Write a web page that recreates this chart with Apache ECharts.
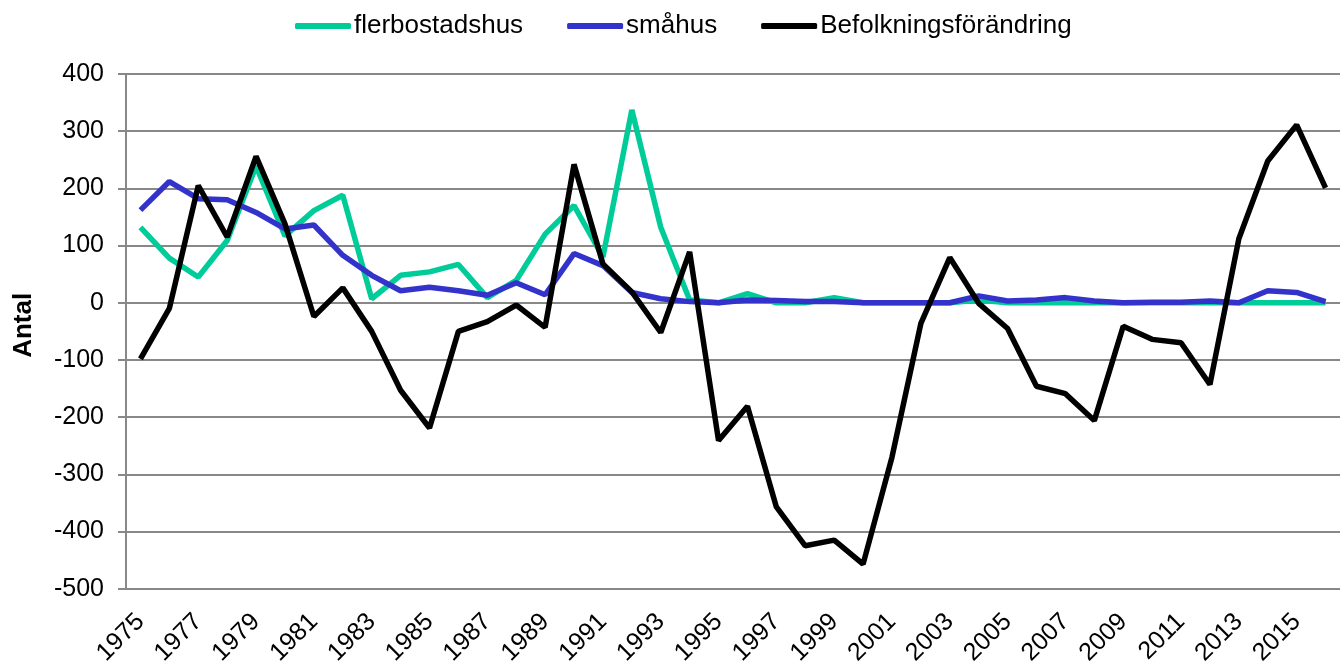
<!DOCTYPE html>
<html>
<head>
<meta charset="utf-8">
<script src="https://cdn.jsdelivr.net/npm/echarts@6/dist/echarts.min.js"></script>
<style>
html,body{margin:0;padding:0;background:#fff;}
#c{width:1340px;height:668px;}
</style>
</head>
<body>
<div id="c"></div>
<script>
const years = ['1975','1976','1977','1978','1979','1980','1981','1982','1983','1984','1985','1986','1987','1988','1989','1990','1991','1992','1993','1994','1995','1996','1997','1998','1999','2000','2001','2002','2003','2004','2005','2006','2007','2008','2009','2010','2011','2012','2013','2014','2015','2016'];
const flerbostadshus = [132,78,45,109,239,117,161,188,7,48,54,67,9,39,120,170,80,337,132,5,0,16,0,0,9,0,0,0,0,5,0,0,0,0,0,0,0,0,0,0,0,0];
const smahus = [162,212,182,180,158,129,136,83,48,21,27,21,13,35,14,86,65,18,7,2,0,5,4,2,2,0,0,0,0,12,3,5,9,3,0,1,1,3,0,21,18,2];
const befolkning = [-98,-10,205,115,256,138,-24,26,-50,-153,-219,-50,-33,-4,-43,242,68,19,-52,89,-241,-181,-357,-425,-415,-457,-270,-36,79,-1,-45,-146,-159,-206,-41,-64,-70,-143,112,248,311,201];
const seriesNames = ['flerbostadshus','småhus','Befolkningsförändring'];
const seriesColors = ['#00CC99','#3333CC','#000000'];

const chart = echarts.init(document.getElementById('c'), null, {renderer:'canvas'});
const font = 'Liberation Sans, Arial, sans-serif';
const dataSets = [flerbostadshus, smahus, befolkning];
chart.setOption({
  animation:false,
  backgroundColor:'#fff',
  textStyle:{fontFamily:font},
  legend:{
    left:290, top:8,
    itemWidth:56, itemHeight:6, itemGap:44,
    icon:'roundRect',
    textStyle:{fontFamily:font, fontSize:26, color:'#000', padding:[0,0,0,-2]},
    data:seriesNames
  },
  grid:{left:126, top:74, width:1224, height:518, containLabel:false},
  xAxis:{
    type:'category',
    data:years,
    boundaryGap:true,
    axisLine:{onZero:false, lineStyle:{color:'#888', width:2}},
    axisTick:{show:false},
    axisLabel:{interval:1, rotate:45, margin:29, fontSize:25, color:'#000', fontFamily:font},
  },
  yAxis:{
    type:'value',
    min:-500, max:400, interval:100,
    name:'Antal',
    nameLocation:'middle',
    nameGap:89,
    nameTextStyle:{fontSize:26, fontWeight:'bold', color:'#000', fontFamily:font, padding:[0,0,0,12]},
    axisLine:{show:true, lineStyle:{color:'#888', width:2}},
    axisTick:{show:true, length:8, lineStyle:{color:'#888', width:2}},
    axisLabel:{fontSize:25, color:'#000', margin:22, fontFamily:font},
    splitLine:{lineStyle:{color:'#888', width:2}}
  },
  series: seriesNames.map((n,i)=>({
    name:n,
    type:'line',
    data:dataSets[i],
    showSymbol:false,
    symbol:'none',
    color:seriesColors[i],
    lineStyle:{width:5.5, color:seriesColors[i]},
    z:2+i
  }))
});
</script>
</body>
</html>
